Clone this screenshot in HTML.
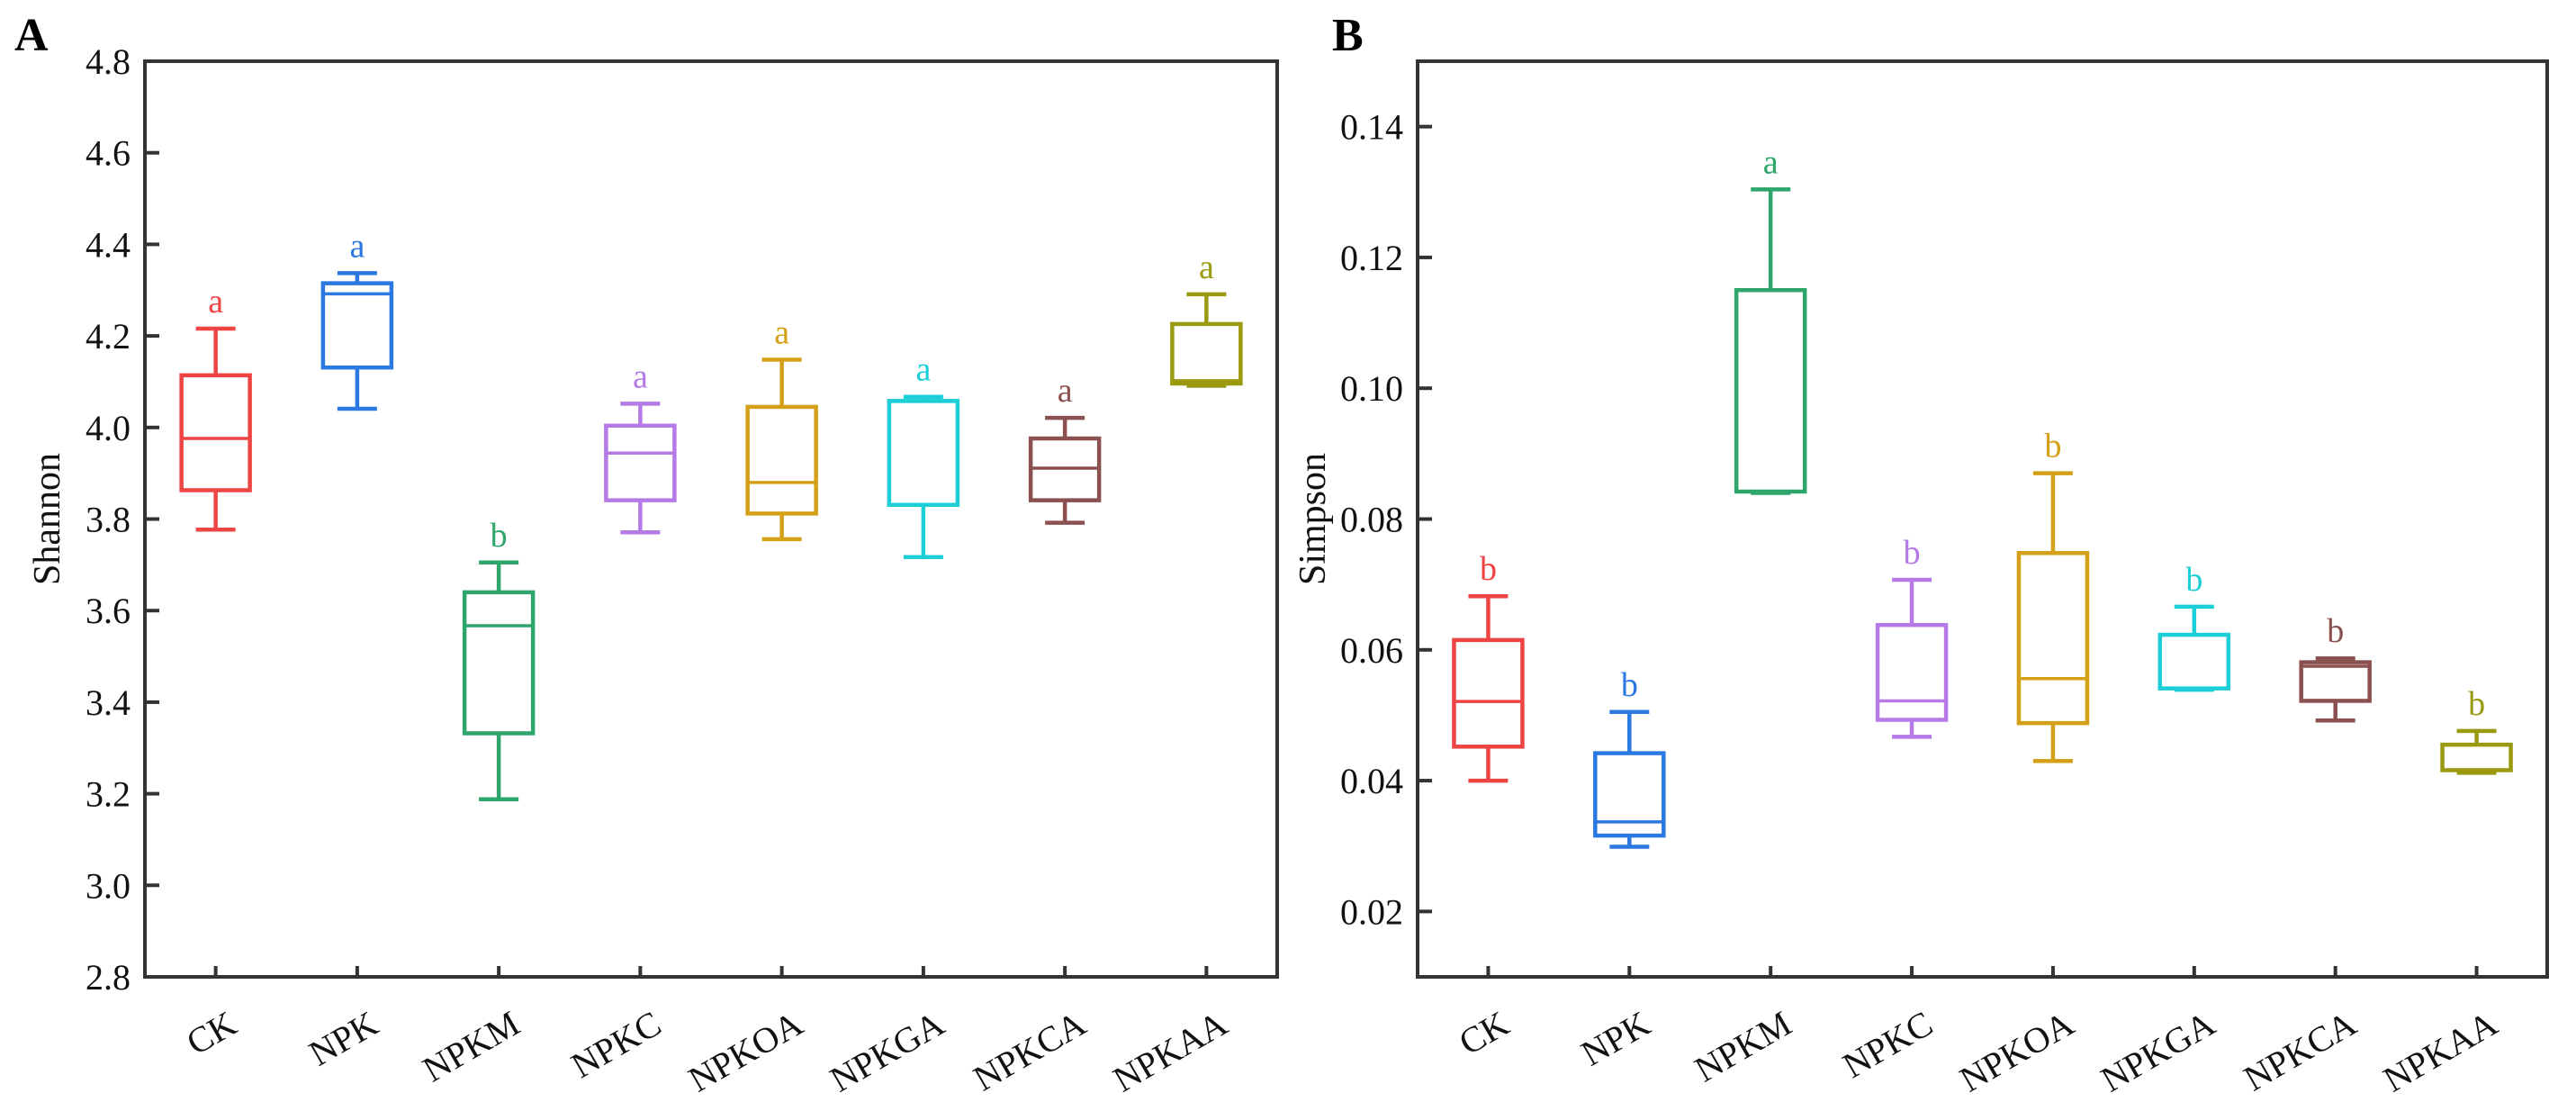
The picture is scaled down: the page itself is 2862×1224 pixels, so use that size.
<!DOCTYPE html>
<html><head><meta charset="utf-8"><style>
html,body{margin:0;padding:0;background:#fff;}
svg{display:block;font-family:"Liberation Serif",serif;}
</style></head><body>
<svg id="fig" width="2862" height="1224" viewBox="0 0 2862 1224" xmlns="http://www.w3.org/2000/svg"></svg>
<script>
const categories = ["CK","NPK","NPKM","NPKC","NPKOA","NPKGA","NPKCA","NPKAA"];
const colors = ["#ee4444","#2a78e0","#2ea56a","#b57ae6","#d4a017","#1ccfd6","#8b5050","#9a9a10"];
const shannonMax = [4.216,4.337,3.705,4.052,4.148,4.067,4.021,4.291];
const shannonQ3  = [4.114,4.315,3.640,4.004,4.045,4.058,3.976,4.226];
const shannonMed = [3.976,4.292,3.567,3.944,3.880,4.057,3.911,4.102];
const shannonQ1  = [3.863,4.131,3.332,3.841,3.812,3.831,3.841,4.096];
const shannonMin = [3.777,4.041,3.188,3.771,3.756,3.717,3.792,4.091];
const shannonLetters = ["a","a","b","a","a","a","a","a"];
const shannonTicks = [2.8,3.0,3.2,3.4,3.6,3.8,4.0,4.2,4.4,4.6,4.8];
const simpsonMax = [0.0682,0.0505,0.1304,0.0707,0.0870,0.0666,0.0587,0.0476];
const simpsonQ3  = [0.0615,0.0442,0.1150,0.0638,0.0748,0.0623,0.0581,0.0455];
const simpsonMed = [0.0521,0.0337,0.0842,0.0522,0.0556,0.0541,0.0575,0.0416];
const simpsonQ1  = [0.0452,0.0316,0.0842,0.0493,0.0488,0.0541,0.0522,0.0416];
const simpsonMin = [0.0400,0.0299,0.0840,0.0467,0.0430,0.0539,0.0492,0.0412];
const simpsonLetters = ["b","b","a","b","b","b","b","b"];
const simpsonTicks = [0.02,0.04,0.06,0.08,0.10,0.12,0.14];

const NS="http://www.w3.org/2000/svg";
const svg=document.getElementById('fig');
function mk(tag,attrs,parent){const e=document.createElementNS(NS,tag);for(const k in attrs)e.setAttribute(k,attrs[k]);(parent||svg).appendChild(e);return e;}

function panel(opt){
  const g=mk('g',{});
  
  
  const L=opt.left,R=opt.right,T=68,B=1085;
  const slot=(R-L)/categories.length;
  const xs=i=>L+slot*(i+0.5);
  const ys=v=>B-(v-opt.ymin)/(opt.ymax-opt.ymin)*(B-T);
  const fr=mk('rect',{x:L,y:T,width:R-L,height:B-T,fill:'none',stroke:'#333',"stroke-width":4},g);
  
  
  opt.ticks.forEach(t=>{
    const y=ys(t);
    const tk=mk('line',{x1:L,x2:L+16,y1:y,y2:y,stroke:'#333',"stroke-width":4},g);
    
    
    const tl=mk('text',{x:L-16,y:y+14,"text-anchor":"end","font-size":40,fill:'#111'},g);
    tl.textContent=t.toFixed(opt.dec);
    
    
  });
  const yt=mk('text',{x:0,y:0,"text-anchor":"middle","font-size":42,fill:'#111',transform:`translate(${opt.titleX},${(T+B)/2}) rotate(-90)`},g);
  yt.textContent=opt.title;
  
  
  const pl=mk('text',{x:opt.letterX,y:56,"font-size":52,"font-weight":"bold",fill:'#000'},g);
  pl.textContent=opt.letter;
  
  
  categories.forEach((c,i)=>{
    const x=xs(i), col=colors[i];
    const xt=mk('line',{x1:x,x2:x,y1:B,y2:B-12,stroke:'#333',"stroke-width":4},g);
    
    
    const xl=mk('text',{x:0,y:0,"text-anchor":"end","font-size":40,fill:'#111',transform:`translate(${x+26},${B+60}) rotate(-30)`},g);
    xl.textContent=c;
    
    
    const bx=mk('g',{},g);
    
    
    const hw=38, cw=22, sw=4.5;
    mk('line',{x1:x,x2:x,y1:ys(opt.max[i]),y2:ys(opt.q3[i]),stroke:col,"stroke-width":sw},bx);
    mk('line',{x1:x,x2:x,y1:ys(opt.q1[i]),y2:ys(opt.min[i]),stroke:col,"stroke-width":sw},bx);
    mk('line',{x1:x-cw,x2:x+cw,y1:ys(opt.max[i]),y2:ys(opt.max[i]),stroke:col,"stroke-width":sw},bx);
    mk('line',{x1:x-cw,x2:x+cw,y1:ys(opt.min[i]),y2:ys(opt.min[i]),stroke:col,"stroke-width":sw},bx);
    mk('rect',{x:x-hw,y:ys(opt.q3[i]),width:2*hw,height:Math.max(0.5,ys(opt.q1[i])-ys(opt.q3[i])),fill:'none',stroke:col,"stroke-width":sw},bx);
    mk('line',{x1:x-hw-2,x2:x+hw+2,y1:ys(opt.med[i]),y2:ys(opt.med[i]),stroke:col,"stroke-width":3.5},bx);
    const lt=mk('text',{x:x,y:ys(opt.max[i])-18,"text-anchor":"middle","font-size":38,fill:col},g);
    lt.textContent=opt.letters[i];
    
    
  });
}
panel({name:'shannon-panel',left:161,right:1419,ymin:2.8,ymax:4.8,ticks:shannonTicks,dec:1,title:'Shannon',titleX:66,letter:'A',letterX:16,
  max:shannonMax,q3:shannonQ3,med:shannonMed,q1:shannonQ1,min:shannonMin,letters:shannonLetters});
panel({name:'simpson-panel',left:1575,right:2830,ymin:0.01,ymax:0.15,ticks:simpsonTicks,dec:2,title:'Simpson',titleX:1472,letter:'B',letterX:1480,
  max:simpsonMax,q3:simpsonQ3,med:simpsonMed,q1:simpsonQ1,min:simpsonMin,letters:simpsonLetters});
</script>
</body></html>
